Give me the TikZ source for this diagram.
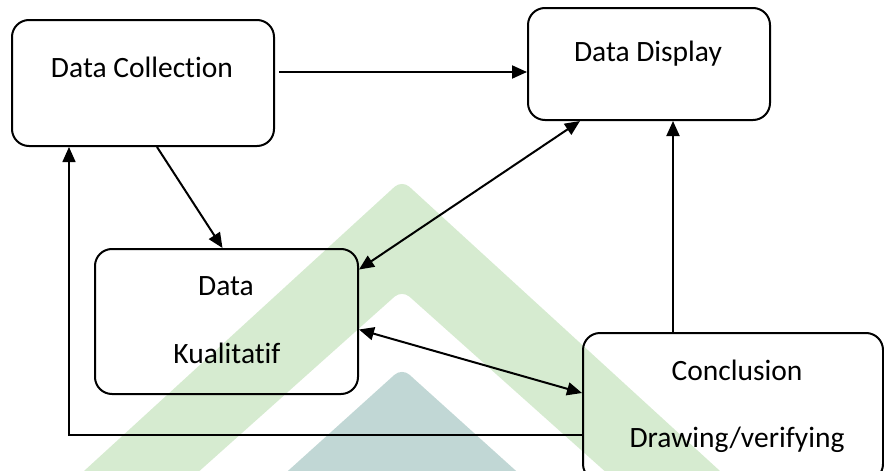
\documentclass[tikz,border=0pt]{standalone}
\usepackage{fontspec}
\setmainfont{Carlito}[Ligatures=NoCommon]
\usepackage{tikz}
\usetikzlibrary{arrows.meta}
\usetikzlibrary{calc}

\definecolor{wmgreen}{RGB}{214,235,208}
\definecolor{wmteal}{RGB}{193,215,213}

\begin{document}
\begin{tikzpicture}[x=1pt, y=-1pt, line width=2pt,
	box/.style={draw, rounded corners=17pt, inner sep=0pt},
	txt/.style={anchor=base, inner sep=0pt, font=\fontsize{29.5}{35}\selectfont},
	arr/.style={-{Triangle[length=15pt,width=13pt]}},
	darr/.style={{Triangle[length=15pt,width=13pt]}-{Triangle[length=15pt,width=13pt]}}]
	\useasboundingbox (0,0) rectangle (884,471);
	\clip (0,0) rectangle (884,471);

	% watermark behind the boxes
	\fill[wmgreen, rounded corners=10pt] (25,525) -- (402,180) -- (779,525) -- (665,525) -- (402,290) -- (139,525) -- cycle;
	\fill[wmteal, rounded corners=10pt] (228,525) -- (402,368) -- (576,525) -- cycle;

	\node[box, minimum width=262pt, minimum height=126pt] (dc) at (143,83) {};
	\node[box, minimum width=242pt, minimum height=112pt] (dd) at (649,64) {};
	\node[box, minimum width=263pt, minimum height=145pt] (dk) at (226.5,321.5) {};
	\node[box, minimum width=300pt, minimum height=148pt] (cd) at (733,407) {};

	\node[txt] (dctext) at (142,77) {Data Collection};
	\node[txt] (ddtext) at (648,61) {Data Display};
	\node[txt] (dktop) at (226,295) {Data};
	\node[txt] (dkbot) at (227,363) {Kualitatif};
	\node[txt] (cdtop) at (737,380) {Conclusion};
	\node[txt] (cdbot) at (737,447) {Drawing/verifying};

	\draw[arr, shorten <=4pt] ([yshift=11pt]dc.east) -- ([yshift=-8pt]dd.west);
	\draw[arr] ([xshift=14pt]dc.south) -- ([xshift=-4pt]dk.north);
	\draw[darr] ([xshift=-69pt]dd.south) -- ([yshift=52pt]dk.east);
	\draw[darr] ([yshift=-8pt]dk.east) -- ([yshift=14pt]cd.west);
	\draw[arr] ([xshift=-60pt]cd.north) -- ([xshift=-60pt]cd.north |- dd.south);
	\draw[arr, line width=1.5pt] ([yshift=-28pt]cd.west) -| ([xshift=-74pt]dc.south);
\end{tikzpicture}
\end{document}
